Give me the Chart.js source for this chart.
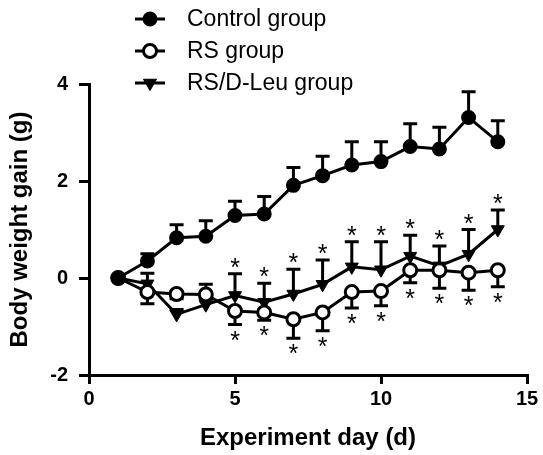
<!DOCTYPE html>
<html lang="en">
<head>
<meta charset="utf-8">
<title>Body weight gain</title>
<style>
  body { margin: 0; background: #fff; }
</style>
</head>
<body>
<canvas id="myChart" width="543" height="455"></canvas>

<script src="https://cdn.jsdelivr.net/npm/chart.js"></script>

<script>
// data (mean and one-sided error bar)
const days = [1, 2, 3, 4, 5, 6, 7, 8, 9, 10, 11, 12, 13, 14];

const control    = [0, 0.35, 0.83, 0.86, 1.29, 1.32, 1.91, 2.11, 2.33, 2.40, 2.71, 2.66, 3.31, 2.81];
const controlErr = [0, 0.15, 0.27, 0.32, 0.29, 0.36, 0.37, 0.40, 0.48, 0.41, 0.47, 0.45, 0.53, 0.43];

const rs    = [0, -0.29, -0.33, -0.34, -0.68, -0.71, -0.85, -0.71, -0.29, -0.27, 0.16, 0.16, 0.11, 0.16];
const rsErr = [0, 0.24, 0.10, 0.10, 0.28, 0.16, 0.39, 0.38, 0.33, 0.30, 0.26, 0.37, 0.36, 0.34];

const dleu    = [0, -0.12, -0.75, -0.55, -0.36, -0.50, -0.33, -0.13, 0.23, 0.17, 0.45, 0.25, 0.49, 1.00];
const dleuErr = [0, 0.22, 0.10, 0.42, 0.45, 0.39, 0.51, 0.50, 0.52, 0.58, 0.43, 0.41, 0.51, 0.40];

// days marked with * (above RS/D-Leu, below RS)
const starDleu = [5, 6, 7, 8, 9, 10, 11, 12, 13, 14];
const starRs   = [5, 6, 7, 8, 9, 10, 11, 12, 13, 14];

const legendNames = ['Control group', 'RS group', 'RS/D-Leu group'];

const xTicks = [0, 5, 10, 15];
const yTicks = [-2, 0, 2, 4];

function pts(ys) {
    return days.map((d, i) => ({x: d, y: ys[i]}));
}

// error bars: dir 1 = up, -1 = down
const errSets = [
    {mean: control, err: controlErr, dir: 1},
    {mean: rs, err: rsErr, dir: -1},
    {mean: dleu, err: dleuErr, dir: 1}
];

const errorBars = {
    id: 'errorBars',
    beforeDatasetsDraw(chart) {
        const ctx = chart.ctx, xs = chart.scales.x, ys = chart.scales.y;
        ctx.save();
        ctx.strokeStyle = '#000';
        ctx.lineWidth = 3;
        errSets.forEach(s => {
            for (let i = 0; i < days.length; i++) {
                if (!s.err[i]) continue;
                const px = xs.getPixelForValue(days[i]);
                const p0 = ys.getPixelForValue(s.mean[i]);
                const p1 = ys.getPixelForValue(s.mean[i] + s.dir * s.err[i]);
                ctx.beginPath();
                ctx.moveTo(px, p0); ctx.lineTo(px, p1);
                ctx.moveTo(px - 7, p1); ctx.lineTo(px + 7, p1);
                ctx.stroke();
            }
        });
        ctx.restore();
    },
    afterDatasetsDraw(chart) {
        const ctx = chart.ctx, xs = chart.scales.x, ys = chart.scales.y;
        ctx.save();
        ctx.fillStyle = '#000';
        ctx.font = '25px "Liberation Sans", Arial, sans-serif';
        ctx.textAlign = 'center';
        ctx.textBaseline = 'alphabetic';
        const m = ctx.measureText('*');
        const mid = (m.actualBoundingBoxAscent - m.actualBoundingBoxDescent) / 2;
        function star(day, val, off) {
            const px = xs.getPixelForValue(day);
            const py = ys.getPixelForValue(val) + off;
            ctx.fillText('*', px, py + mid);
        }
        starDleu.forEach(d => {
            const i = days.indexOf(d);
            star(d, dleu[i] + dleuErr[i], -11);
        });
        starRs.forEach(d => {
            const i = days.indexOf(d);
            star(d, rs[i] - rsErr[i], 11);
        });
        ctx.restore();
    }
};

const legendBox = {
    id: 'legendBox',
    afterDraw(chart) {
        const ctx = chart.ctx;
        ctx.save();
        const rows = [19, 51, 83];
        chart.data.datasets.forEach((ds, i) => {
            const y = rows[i];
            ctx.strokeStyle = '#000';
            ctx.lineWidth = 3;
            ctx.beginPath();
            ctx.moveTo(135, y); ctx.lineTo(165, y);
            ctx.stroke();
            ctx.fillStyle = ds.pointBackgroundColor;
            ctx.strokeStyle = '#000';
            ctx.lineWidth = ds.pointBorderWidth;
            Chart.helpers.drawPoint(ctx, {
                pointStyle: ds.pointStyle,
                rotation: ds.pointRotation || 0,
                radius: ds.pointRadius,
                borderWidth: ds.pointBorderWidth
            }, 150, y);
            ctx.fillStyle = '#000';
            ctx.font = '23px "Liberation Sans", Arial, sans-serif';
            ctx.textAlign = 'left';
            ctx.textBaseline = 'middle';
            ctx.fillText(legendNames[i], 187, y + 1);
        });
        ctx.restore();
    }
};

const ctx = document.getElementById('myChart');

new Chart(ctx, {
    type: 'line',
    data: {
        datasets: [
            {
                label: legendNames[0],
                data: pts(control),
                borderColor: '#000', borderWidth: 3,
                pointStyle: 'circle', pointRadius: 6.5,
                pointBackgroundColor: '#000', pointBorderColor: '#000', pointBorderWidth: 2
            },
            {
                label: legendNames[1],
                data: pts(rs),
                borderColor: '#000', borderWidth: 3,
                pointStyle: 'circle', pointRadius: 6.5,
                pointBackgroundColor: '#fff', pointBorderColor: '#000', pointBorderWidth: 3
            },
            {
                label: legendNames[2],
                data: pts(dleu),
                borderColor: '#000', borderWidth: 3,
                pointStyle: 'triangle', pointRotation: 180, pointRadius: 7.5,
                pointBackgroundColor: '#000', pointBorderColor: '#000', pointBorderWidth: 1
            }
        ]
    },
    options: {
        responsive: false,
        animation: false,
        devicePixelRatio: 1,
        layout: { padding: {top: 84, right: 16, left: 0, bottom: 0} },
        plugins: {
            legend: { display: false },
            tooltip: { enabled: false }
        },
        scales: {
            x: {
                type: 'linear',
                min: 0, max: 15,
                afterBuildTicks: s => { s.ticks = xTicks.map(v => ({value: v})); },
                afterFit: s => { s.height = 80; s.paddingLeft = 0; s.paddingRight = 0; },
                border: { display: true, color: '#000', width: 3 },
                grid: { display: true, drawOnChartArea: false, drawTicks: true, tickLength: 9, color: '#000', lineWidth: 3 },
                ticks: {
                    padding: 3, color: '#000',
                    font: { family: '"Liberation Sans", Arial, sans-serif', size: 20, weight: 'bold' }
                },
                title: {
                    display: true, text: 'Experiment day (d)', color: '#000',
                    padding: {top: 0, bottom: 5},
                    font: { family: '"Liberation Sans", Arial, sans-serif', size: 24, weight: 'bold', lineHeight: 1 }
                }
            },
            y: {
                min: -2, max: 4,
                afterBuildTicks: s => { s.ticks = yTicks.map(v => ({value: v})); },
                afterFit: s => { s.width = 89; s.paddingTop = 0; s.paddingBottom = 0; },
                border: { display: true, color: '#000', width: 3 },
                grid: { display: true, drawOnChartArea: false, drawTicks: true, tickLength: 10, color: '#000', lineWidth: 3 },
                ticks: {
                    padding: 11, color: '#000',
                    font: { family: '"Liberation Sans", Arial, sans-serif', size: 20, weight: 'bold' }
                },
                title: {
                    display: true, text: 'Body weight gain (g)', color: '#000',
                    padding: {top: 8, bottom: 0},
                    font: { family: '"Liberation Sans", Arial, sans-serif', size: 24, weight: 'bold', lineHeight: 1 }
                }
            }
        }
    },
    plugins: [errorBars, legendBox]
});
</script>
</body>
</html>
